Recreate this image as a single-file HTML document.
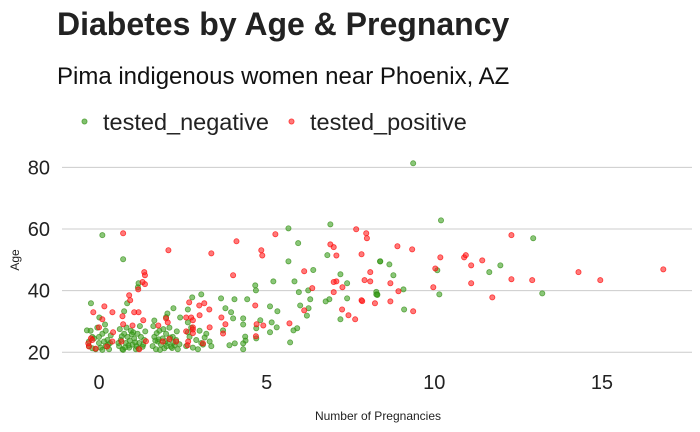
<!DOCTYPE html>
<html><head><meta charset="utf-8"><style>
body{margin:0;background:#fff;}
svg{display:block;font-family:"Liberation Sans",sans-serif;}
</style></head><body>
<svg id="chart" width="700" height="432" viewBox="0 0 700 432">
<text x="57" y="35" font-size="32" font-weight="bold" fill="#222">Diabetes by Age &amp; Pregnancy</text>
<text x="57" y="84" font-size="24" fill="#111">Pima indigenous women near Phoenix, AZ</text>
<g>
<g><circle cx="84.5" cy="121.5" r="2.6" fill="rgb(60,160,30)" fill-opacity="0.65" stroke="rgb(50,140,20)" stroke-opacity="0.7" stroke-width="0.8"/><text x="103" y="130" font-size="23.5" fill="#222">tested_negative</text></g>
<g><circle cx="291.5" cy="121.5" r="2.6" fill="#ff2020" fill-opacity="0.6" stroke="#ff0000" stroke-opacity="0.7" stroke-width="0.8"/><text x="310" y="130" font-size="23.5" fill="#222">tested_positive</text></g>
</g>
<g id="grid"></g>
<g id="yt"></g>
<g id="xt"></g>
<g id="pts"></g>
<text x="378" y="420" font-size="12" text-anchor="middle" fill="#222">Number of Pregnancies</text>
<text transform="translate(19,260) rotate(-90)" font-size="12" text-anchor="middle" fill="#222">Age</text>
</svg>
<script>
const yTicks=[20,40,60,80];
const xTicks=[0,5,10,15];
const negPreg=[0.10,0.72,5.65,6.9,5.94,5.65,6.81,8.38,6.39,5.2,5.83,4.66,4.68,7.2,7.4,5.96,6.24,6.3,7.4,6.87,8.27,8.3,6.0,6.25,6.2,5.32,5.1,5.15,5.3,5.1,5.91,5.8,5.7,7.2,6.76,3.64,4.04,4.42,3.05,2.78,3.77,3.94,4.3,4.0,3.7,4.3,4.36,4.37,4.3,4.05,3.89,4.3,4.69,4.69,4.81,2.22,2.42,2.65,2.65,2.04,2.0,1.65,0.84,0.75,1.16,1.18,0.01,-0.24,-0.36,
9.37,10.2,12.95,8.39,8.66,8.78,9.08,8.27,8.3,9.1,10.09,10.15,11.64,11.97,13.22,
-0.3,-0.2,-0.1,0,0.1,0.2,0.25,-0.25,0.05,0.15,-0.15,0.3,0.35,-0.05,0.2,0.1,-0.3,0.28,0.0,0.18,-0.2,0.33,
0.6,0.65,0.7,0.75,0.8,0.85,0.9,0.95,1.0,1.05,1.1,1.15,1.2,1.25,1.3,1.35,0.62,0.72,0.82,0.92,1.02,1.12,1.22,1.32,0.68,0.88,1.08,1.18,0.78,0.98,1.38,0.58,
1.6,1.65,1.7,1.75,1.8,1.85,1.9,1.95,2.0,2.05,2.1,2.15,2.2,2.25,2.3,2.35,1.62,1.72,1.82,1.92,2.02,2.12,2.22,2.32,2.4,1.78,1.98,2.18,1.68,
2.6,2.7,2.8,2.9,3.0,3.1,3.2,3.3,2.75,2.95,3.15,3.35,2.65,3.05];
const negAge=[58.0,50.2,60.2,61.5,55.4,49.5,51.5,49.5,46.7,43.0,43.0,41.7,40.1,45.3,42.4,39.5,40.1,37.2,37.5,37.2,39.6,38.8,35.2,34.3,31.9,33.3,34.9,29.7,28.1,26.5,27.8,27.1,23.2,30.7,36.5,37.5,37.2,37.2,38.8,37.8,34.3,33.0,31.0,31.0,27.1,29.0,25.1,23.8,22.9,22.9,22.3,21.0,24.5,27.8,30.4,34.3,31.3,33.9,29.7,32.6,31.4,30.3,35.9,33.3,41.1,42.4,31.3,35.9,27.1,
81.3,62.8,57.0,49.5,48.5,45.0,40.4,38.8,38.6,33.9,46.6,38.8,46.0,48.2,39.1,
22,25,21,23,26,22,24,27,21.5,23.5,24.5,21,25.5,28,27,20.8,23.5,22.5,25,29,21.3,23,
22,24,21,26,23,25,21.5,27,22.5,24.5,21,26,23,25,21.8,24,27.5,20.8,28,23.8,26.5,22,28.5,22.5,25.2,22.2,23.2,21.2,21.6,25.8,26.8,23,
22,25,21,23.5,27,22.5,24.5,21.3,26,23,28,21.8,25,22.3,24,21,28.5,26.2,20.8,27.5,22,24.8,23.2,26.8,22.6,24.2,23.6,21.4,23.8,
22,25,21.5,24,27,22.5,26,23.5,28,21,24.8,22,26.5,23];
const posPreg=[0.72,2.07,3.35,4.1,4.0,5.26,4.84,4.87,6.12,6.36,6.12,5.68,4.66,4.7,4.9,4.68,6.9,7.0,7.08,7.08,7.0,7.0,7.26,7.25,7.44,7.64,7.67,7.97,7.99,7.83,8.09,7.92,8.09,7.83,7.85,8.23,1.35,1.37,1.37,1.3,1.17,0.9,0.93,0.16,-0.17,0.4,0.7,1.05,1.18,0.1,1.32,0.72,1.0,0.0,0.42,2.69,3.14,2.99,3.29,3.0,2.6,2.75,2.8,2.05,2.0,1.77,2.8,2.8,2.6,2.8,3.3,2.66,3.1,2.64,3.7,3.65,3.77,2.3,2.1,1.9,0.24,-0.3,-0.24,-0.2,0.4,-0.32,0.67,1.4,1.2,-0.1,
8.9,9.34,8.69,8.69,8.93,9.37,9.97,10.03,10.18,10.89,10.94,11.1,11.1,11.43,11.73,12.3,12.3,12.92,14.3,14.95,16.83];
const posAge=[58.6,53.1,52.1,56.0,45.0,58.3,53.1,51.4,46.3,40.8,33.6,29.4,35.2,29.1,28.7,25.2,55.0,54.1,51.4,43.0,42.8,39.5,41.1,33.9,32.0,30.7,59.9,58.6,57.0,51.8,46.0,43.4,43.0,36.9,36.6,35.9,46.0,45.0,42.1,42.8,40.4,38.5,36.9,34.9,33.0,33.0,31.7,33.0,33.0,30.7,30.4,29.1,28.7,28.1,26.5,36.2,35.9,35.2,33.9,32.0,31.3,31.3,30.4,29.7,31.0,28.7,28.1,27.4,26.8,26.2,28.1,23.5,22.9,22.3,26.1,31.3,29.1,23.5,24.3,23.5,21.9,21.9,24.5,24.0,23.5,22.9,23.5,23.6,21.0,21.2,
54.4,53.4,42.4,36.5,39.8,33.3,41.1,47.2,50.8,50.8,51.5,48.2,42.4,49.8,37.8,58.0,43.7,43.4,46.0,43.4,46.9];
const NS="http://www.w3.org/2000/svg";
function xs(v){return 99+v*33.53;}
function ys(v){return 352.3-(v-20)*3.083;}
const grid=document.getElementById('grid'),yt=document.getElementById('yt'),xt=document.getElementById('xt'),pts=document.getElementById('pts');
yTicks.forEach(t=>{
 const l=document.createElementNS(NS,'line');
 l.setAttribute('x1',62);l.setAttribute('x2',692);l.setAttribute('y1',ys(t));l.setAttribute('y2',ys(t));
 l.setAttribute('stroke','#cccccc');l.setAttribute('stroke-width','1');
 
 
 grid.appendChild(l);
 const tx=document.createElementNS(NS,'text');
 tx.setAttribute('x',50);tx.setAttribute('y',ys(t)+7);tx.setAttribute('text-anchor','end');tx.setAttribute('font-size','20');tx.setAttribute('fill','#222');
 tx.textContent=t;
 
 
 yt.appendChild(tx);
});
xTicks.forEach(t=>{
 const tx=document.createElementNS(NS,'text');
 tx.setAttribute('x',xs(t));tx.setAttribute('y',389);tx.setAttribute('text-anchor','middle');tx.setAttribute('font-size','20');tx.setAttribute('fill','#222');
 tx.textContent=t;
 
 
 xt.appendChild(tx);
});
function draw(px,ay,fill,stroke,fo,name){
 for(let i=0;i<px.length;i++){
  const c=document.createElementNS(NS,'circle');
  c.setAttribute('cx',xs(px[i]));c.setAttribute('cy',ys(ay[i]));c.setAttribute('r','2.6');
  c.setAttribute('fill',fill);c.setAttribute('fill-opacity',fo);c.setAttribute('stroke',stroke);c.setAttribute('stroke-opacity','0.7');c.setAttribute('stroke-width','0.8');
  
  
  pts.appendChild(c);
 }
}
draw(negPreg,negAge,'rgb(60,160,30)','rgb(50,140,20)','0.6','point-negative');
draw(posPreg,posAge,'#ff2020','#ff0000','0.6','point-positive');
</script>
</body></html>
